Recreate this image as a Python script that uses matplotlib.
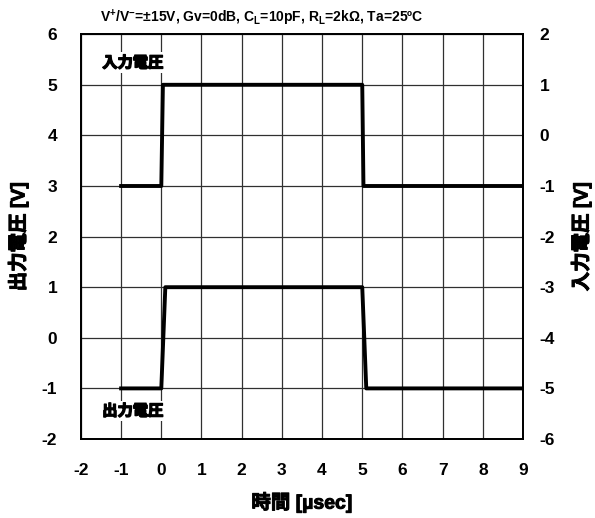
import matplotlib.pyplot as plt
import matplotlib.patheffects as pe

plt.rcParams['font.family'] = ['Liberation Sans', 'Noto Sans CJK JP']
plt.rcParams['font.weight'] = 'bold'
plt.rcParams['axes.unicode_minus'] = False
plt.rcParams['mathtext.fontset'] = 'custom'
plt.rcParams['mathtext.rm'] = 'Liberation Sans:bold'
plt.rcParams['mathtext.it'] = 'Liberation Sans:bold'
plt.rcParams['mathtext.default'] = 'rm'

# step response waveforms, time in usec
out_time = [-1, 0, 0.1, 5.0, 5.1, 9]
out_volt = [-1, -1, 1, 1, -1, -1]
in_time = [-1, 0, 0.04, 5.0, 5.03, 9]
in_volt = [-1, -1, 1, 1, -1, -1]

x_ticks = list(range(-2, 10))
left_ticks = list(range(-2, 7))
right_ticks = list(range(-6, 3))

fig = plt.figure(figsize=(5.95, 5.18), dpi=100)
ax = fig.add_axes([0.136, 0.1525, 0.743, 0.7815])
ax2 = ax.twinx()

ax.set_xlim(-2, 9)
ax.set_ylim(-2, 6)
ax2.set_ylim(-6, 2)
ax.set_xticks(x_ticks)
ax.set_yticks(left_ticks)
ax2.set_yticks(right_ticks)
ax.grid(True, color='#303030', linewidth=0.9)
ax.set_axisbelow(True)

ax.plot(out_time, out_volt, color='black', linewidth=2.8, zorder=3)
ax2.plot(in_time, in_volt, color='black', linewidth=2.8, zorder=3)

for a in (ax, ax2):
    a.tick_params(length=0, labelsize=12.5)
    for s in a.spines.values():
        s.set_linewidth(1.3)
        s.set_color('black')
ax.tick_params(axis='x', pad=17)
ax.tick_params(axis='y', pad=17)
ax2.tick_params(axis='y', pad=12)
for lab in ax.get_xticklabels() + ax.get_yticklabels() + ax2.get_yticklabels():
    lab.set_fontweight('bold')
    lab.set_family('Liberation Sans')

heavy = [pe.withStroke(linewidth=0.7, foreground='black')]
jp = ['Liberation Sans', 'Noto Sans CJK JP']
ax.set_xlabel('時間 [µsec]', fontsize=14, fontweight='bold', family=jp, path_effects=heavy)
ax.set_ylabel('出力電圧 [V]', fontsize=14, fontweight='bold', family=jp, path_effects=heavy)
ax2.set_ylabel('入力電圧 [V]', fontsize=14, fontweight='bold', rotation=90, family=jp,
               path_effects=heavy)
ax.xaxis.label.set_va('center')
ax.yaxis.label.set_va('center')
ax2.yaxis.label.set_va('center')
ax.xaxis.set_label_coords(0.5, -0.156)
ax.yaxis.set_label_coords(-0.1425, 0.5)
ax2.yaxis.set_label_coords(1.131, 0.5)

ax.text(0.41, 1.015, 'V$^{+}$/V$^{-}$=±15V, Gv=0dB, C$_{L}$=10pF, R$_{L}$=2kΩ, Ta=25ºC',
        transform=ax.transAxes, ha='center', va='bottom', fontsize=10, fontweight='bold')

box = dict(facecolor='white', edgecolor='none', pad=1.5)
ax.text(-0.71, 5.44, '入力電圧', ha='center', va='center', fontsize=11,
        family=['Noto Sans CJK JP'], fontweight='bold', bbox=box, zorder=4,
        path_effects=[pe.withStroke(linewidth=1.0, foreground='black')])
ax.text(-0.71, -1.44, '出力電圧', ha='center', va='center', fontsize=11,
        family=['Noto Sans CJK JP'], fontweight='bold', bbox=box, zorder=4,
        path_effects=[pe.withStroke(linewidth=1.0, foreground='black')])

fig.savefig('out.png', dpi=100)
